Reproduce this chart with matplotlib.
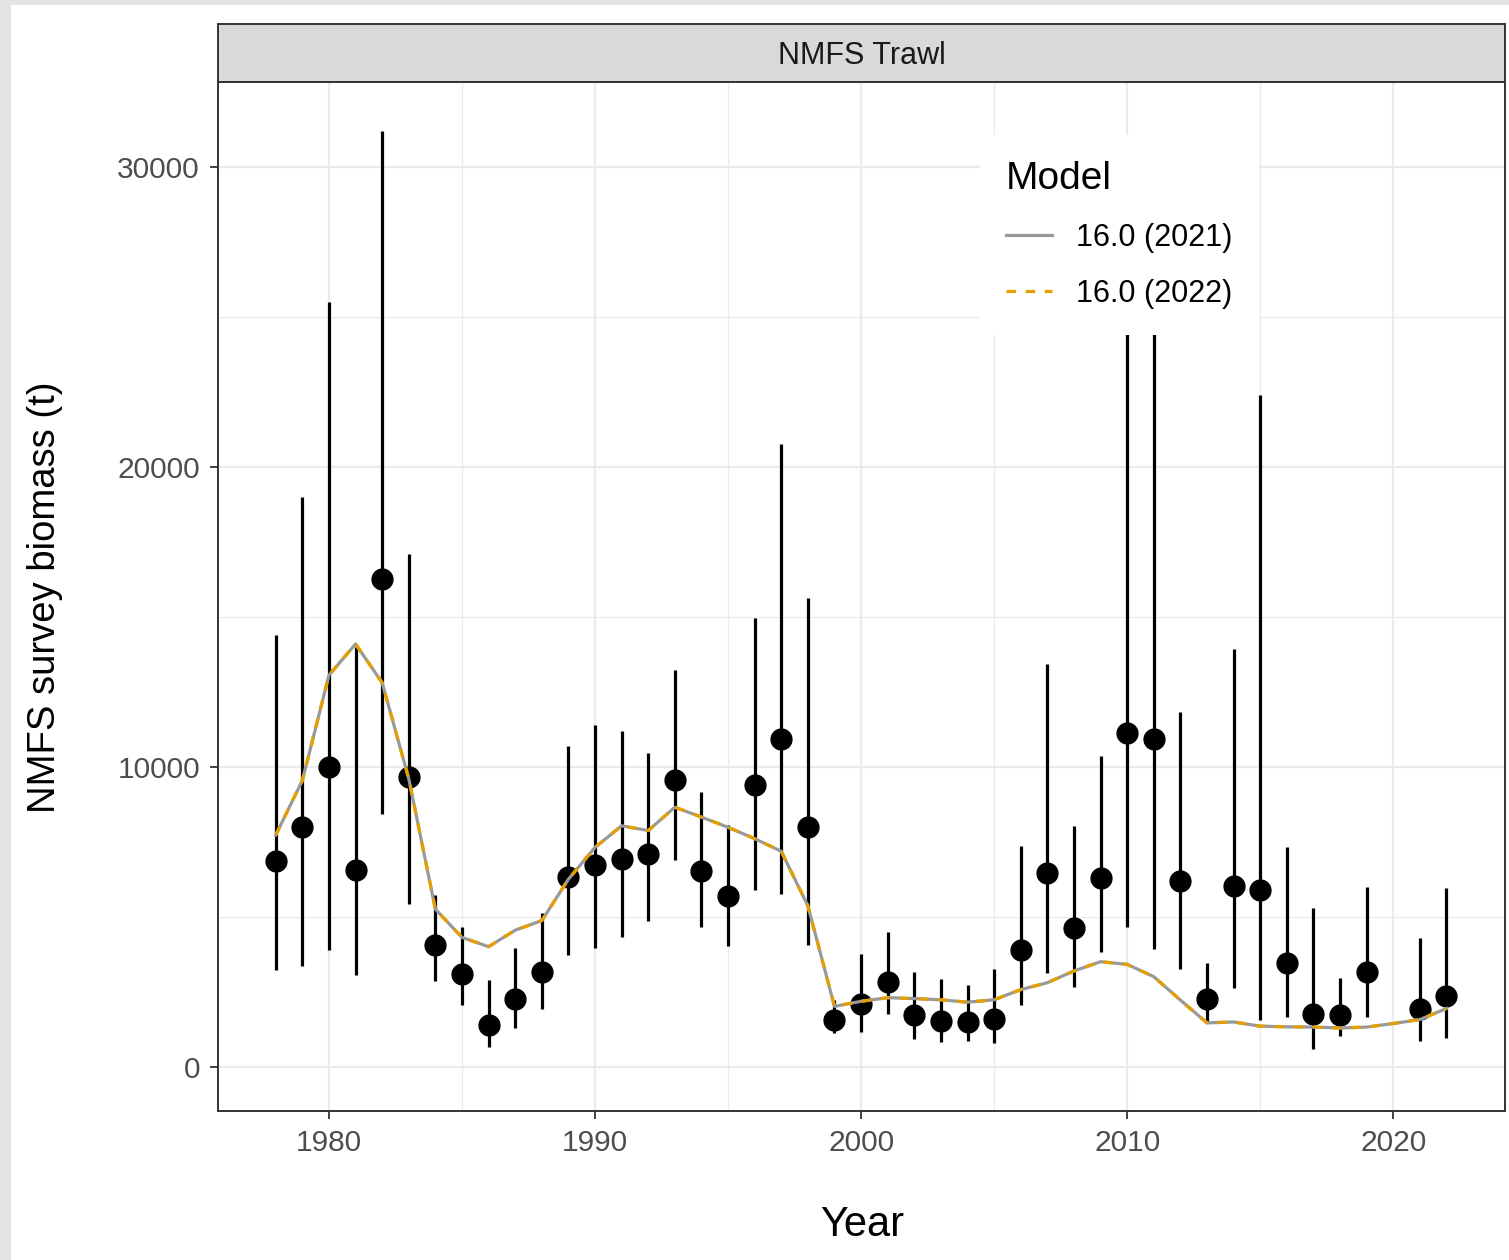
import matplotlib.pyplot as plt
from matplotlib.patches import Rectangle
from matplotlib.ticker import MultipleLocator
import numpy as np

plt.rcParams['font.family'] = ['Liberation Sans', 'DejaVu Sans']

# survey observations (t) with lower / upper interval
obs_year = [1978, 1979, 1980, 1981, 1982, 1983, 1984, 1985, 1986, 1987, 1988,
            1989, 1990, 1991, 1992, 1993, 1994, 1995, 1996, 1997, 1998, 1999,
            2000, 2001, 2002, 2003, 2004, 2005, 2006, 2007, 2008, 2009, 2010,
            2011, 2012, 2013, 2014, 2015, 2016, 2017, 2018, 2019, 2021, 2022]
obs_biomass = [6850, 7990, 9990, 6560, 16250, 9650, 4050, 3110, 1390, 2260, 3150,
               6320, 6730, 6940, 7090, 9550, 6540, 5700, 9400, 10925, 7990, 1570,
               2090, 2840, 1720, 1540, 1490, 1600, 3890, 6460, 4640, 6310, 11125,
               10925, 6200, 2280, 6040, 5890, 3470, 1780, 1720, 3170, 1940, 2360]
obs_lower = [3240, 3360, 3890, 3060, 8440, 5440, 2860, 2060, 660, 1290, 1920,
             3740, 3950, 4330, 4850, 6900, 4660, 4030, 5900, 5750, 4060, 1120,
             1150, 1760, 920, 820, 850, 790, 2050, 3120, 2680, 3830, 4670,
             3940, 3250, 1500, 2620, 1550, 1660, 600, 1020, 1660, 880, 970]
obs_upper = [14410, 19000, 25500, 14000, 31200, 17090, 5730, 4650, 2910, 3970, 5120,
             10690, 11410, 11190, 10450, 13240, 9180, 8060, 14970, 20780, 15640, 2240,
             3780, 4510, 3160, 2940, 2720, 3280, 7370, 13420, 8030, 10350, 28000,
             28000, 11840, 3470, 13940, 22400, 7320, 5310, 2950, 6010, 4290, 5950]

# model fits (both runs identical)
fit_year = list(range(1978, 2023))
fit_2021 = [7730, 9550, 13060, 14100, 12810, 9610, 5260, 4320, 4010, 4560, 4880,
            6260, 7320, 8040, 7880, 8660, 8330, 7990, 7610, 7190, 5370, 2020,
            2190, 2310, 2280, 2240, 2160, 2240, 2580, 2810, 3200, 3510, 3420,
            3010, 2230, 1470, 1500, 1360, 1340, 1330, 1300, 1330, 1450, 1580, 1950]
fit_2022 = list(fit_2021)

W, H = 1509, 1260
fig = plt.figure(figsize=(W / 100, H / 100), dpi=100)
fig.patch.set_facecolor('white')

# textured paper edge, approximated by flat grey strips
fig.patches.append(Rectangle((0, 0), 11 / W, 1, transform=fig.transFigure,
                             facecolor='#e4e4e4', edgecolor='none', zorder=0))
fig.patches.append(Rectangle((0, 1 - 5 / H), 1, 5 / H, transform=fig.transFigure,
                             facecolor='#e4e4e4', edgecolor='none', zorder=0))

left, right, top, bottom = 218, 1505, 82, 1111
ax = fig.add_axes([left / W, 1 - bottom / H, (right - left) / W, (bottom - top) / H])

ax.errorbar(obs_year, obs_biomass,
            yerr=[np.array(obs_biomass) - np.array(obs_lower),
                  np.array(obs_upper) - np.array(obs_biomass)],
            fmt='o', color='black', ms=15, elinewidth=2.3, capsize=0, zorder=3)
ax.plot(fit_year, fit_2021, color='#999999', lw=2.3, zorder=4, label='16.0 (2021)')
ax.plot(fit_year, fit_2022, color='#E69F00', lw=2.3, ls=(0, (3, 3)), zorder=5,
        label='16.0 (2022)')

ax.set_xlim(1975.83, 2024.2)
ax.set_ylim(-1467, 32833)
ax.xaxis.set_major_locator(MultipleLocator(10))
ax.xaxis.set_minor_locator(MultipleLocator(5))
ax.yaxis.set_major_locator(MultipleLocator(10000))
ax.yaxis.set_minor_locator(MultipleLocator(5000))
ax.grid(which='major', color='#EBEBEB', lw=1.6, zorder=0)
ax.grid(which='minor', color='#EBEBEB', lw=0.9, zorder=0)
ax.set_axisbelow(True)
ax.tick_params(which='major', length=6, width=1.3, color='#333333',
               labelsize=21.5, labelcolor='#4D4D4D', pad=7)
ax.tick_params(which='minor', length=0)
for s in ax.spines.values():
    s.set_color('#333333')
    s.set_linewidth(1.4)

# facet strip
sax = fig.add_axes([left / W, 1 - top / H, (right - left) / W, 58 / H])
sax.set_facecolor('#D9D9D9')
sax.set_xticks([])
sax.set_yticks([])
for s in sax.spines.values():
    s.set_color('#333333')
    s.set_linewidth(1.4)
sax.text(0.5, 0.44, 'NMFS Trawl', ha='center', va='center', fontsize=22,
         color='#1A1A1A', transform=sax.transAxes)

fig.text(862 / W, 1 - 1225 / H, 'Year', ha='center', va='center', fontsize=30)
fig.text(45 / W, 1 - 597 / H, 'NMFS survey biomass (t)', ha='center', va='center',
         rotation=90, fontsize=27.5)

leg = ax.legend(title='Model', loc='upper left',
                bbox_to_anchor=(980 / W, 1 - 135 / H), bbox_transform=fig.transFigure,
                borderaxespad=0, fontsize=22, title_fontsize=28, frameon=True,
                facecolor='white', edgecolor='none', framealpha=1, fancybox=False,
                handlelength=1.5, handletextpad=0.8, labelspacing=0.85,
                borderpad=0.85, alignment='left')

fig.savefig('out.png', dpi=100)
